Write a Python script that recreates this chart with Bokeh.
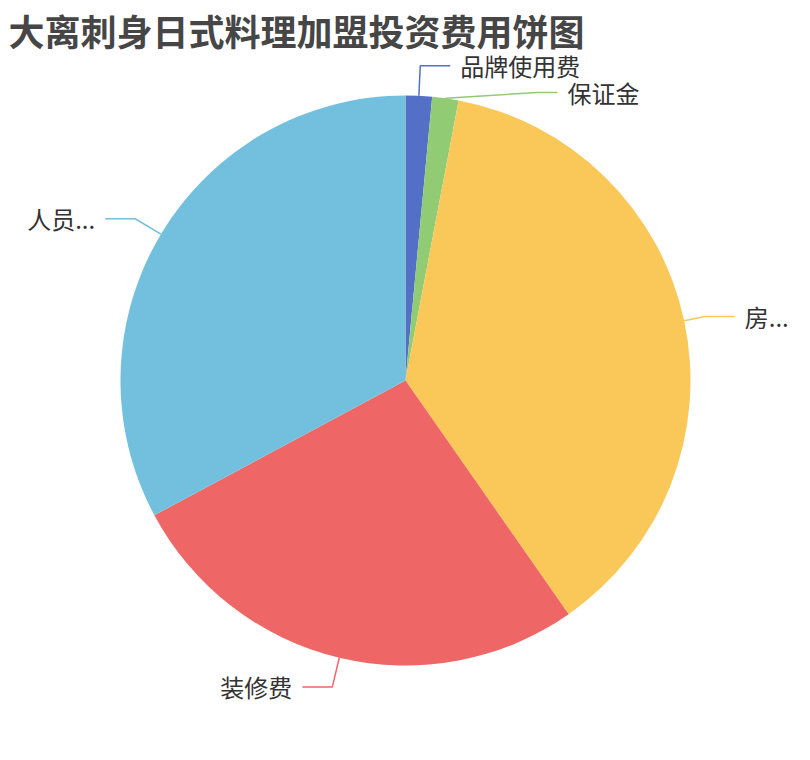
import numpy as np
from bokeh.plotting import figure
from bokeh.models import Range1d, ColumnDataSource
from bokeh.core.properties import value
from bokeh.embed import file_html
from bokeh.resources import INLINE

# ---- data ----
title_text = "大离刺身日式料理加盟投资费用饼图"
labels = ["品牌使用费", "保证金", "房...", "装修费", "人员..."]
values = [2, 2, 50, 36, 44]
colors = ["#5470c6", "#91cc75", "#fac858", "#ee6666", "#73c0de"]

# ---- layout constants ----
W, H = 794, 744
CX, CY = 405, 364
R = 285
L1 = [30, 30, 21, 30, 30]      # radial leader length
L2 = [30, 20, 30, 30, 30]      # horizontal leader length
elbow_override = {1: (537, 652)}  # label moved to avoid overlap
GAP = 10
FONT = "Noto Sans CJK SC"

p = figure(width=W, height=H, x_range=Range1d(0, W), y_range=Range1d(0, H),
           output_backend="svg", toolbar_location=None,
           x_axis_type=None, y_axis_type=None, min_border=0)
p.grid.visible = False
p.outline_line_color = None
p.background_fill_color = "white"
p.border_fill_color = "white"

vals = np.array(values, dtype=float)
frac = vals / vals.sum()
c1 = np.cumsum(frac)
c0 = c1 - frac
start = np.pi / 2 - 2 * np.pi * c0
end = np.pi / 2 - 2 * np.pi * c1

src = ColumnDataSource(dict(start=start, end=end, color=colors, label=labels))
p.wedge(x=CX, y=CY, radius=R, start_angle="start", end_angle="end",
        direction="clock", fill_color="color", line_color=None, source=src)

# leader lines and labels
xs, ys = [], []
tx, ty, talign = [], [], []
mid = 2 * np.pi * (c0 + c1) / 2
for i, th in enumerate(mid):
    sx, sy = CX + R * np.sin(th), CY + R * np.cos(th)
    if i in elbow_override:
        ex, ey = elbow_override[i]
    else:
        ex, ey = CX + (R + L1[i]) * np.sin(th), CY + (R + L1[i]) * np.cos(th)
    right = np.sin(th) >= 0
    fx = ex + L2[i] if right else ex - L2[i]
    xs.append([sx, ex, fx])
    ys.append([sy, ey, ey])
    tx.append(fx + GAP if right else fx - GAP)
    ty.append(ey)
    talign.append("left" if right else "right")

p.multi_line(xs=xs, ys=ys, line_color=colors, line_width=1.5)
p.text(x=tx, y=ty, text=labels, text_align=talign, text_baseline="middle",
       text_font=value(FONT), text_font_size="24px", text_color="#333333")

p.text(x=[8], y=[715], text=[title_text], text_align="left", text_baseline="middle",
       text_font=value(FONT), text_font_size="36px", text_font_style="bold",
       text_color="#464646")

open("out.html", "w").write(file_html(p, INLINE))
